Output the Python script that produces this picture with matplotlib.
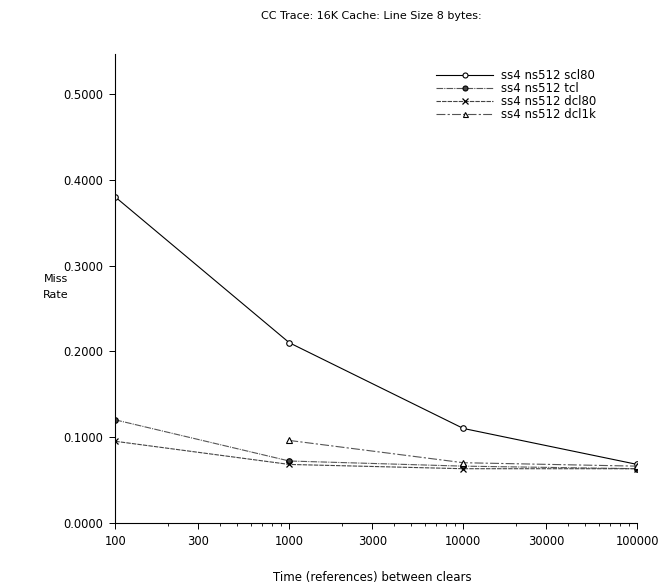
import numpy as np
import matplotlib
matplotlib.use("Agg")
import matplotlib.pyplot as plt
from matplotlib.ticker import FixedLocator, NullFormatter

plt.rcParams['font.family'] = ['DejaVu Sans']

# Clear interval (references) and miss rates for each configuration
intervals = [100, 1000, 10000, 100000]
scl80 = [0.38, 0.21, 0.11, 0.068]
tcl = [0.12, 0.072, 0.066, 0.063]
dcl80 = [0.095, 0.068, 0.063, 0.063]
dcl1k = [np.nan, 0.096, 0.070, 0.066]
series_names = ["ss4 ns512 scl80", "ss4 ns512 tcl", "ss4 ns512 dcl80", "ss4 ns512 dcl1k"]
xtick_vals = [100, 300, 1000, 3000, 10000, 30000, 100000]
ytick_vals = [0.0, 0.1, 0.2, 0.3, 0.4, 0.5]

fig = plt.figure(figsize=(6.59, 5.86), dpi=100)
ax = fig.add_axes([0.175, 0.108, 0.792, 0.80])

ax.plot(intervals, scl80, color="black", lw=0.8, ls="-", marker="o",
        ms=4, mfc="white", mec="black", mew=0.8, label=series_names[0])
ax.plot(intervals, tcl, color="#555555", lw=0.8, ls=(0, (6, 1, 1, 1)), marker="o",
        ms=4, mfc="#444444", mec="black", mew=0.8, label=series_names[1])
ax.plot(intervals, dcl80, color="#444444", lw=0.8, ls=(0, (4, 1)), marker="x",
        ms=4.5, mec="black", mew=0.9, label=series_names[2])
ax.plot(intervals, dcl1k, color="#555555", lw=0.8, ls=(0, (8, 2, 2, 2)), marker="^",
        ms=4, mfc="white", mec="black", mew=0.8, label=series_names[3])

ax.set_xscale("log")
ax.set_xlim(100, 100000)
ax.set_ylim(0, 0.547)

ax.xaxis.set_major_locator(FixedLocator(xtick_vals))
ax.set_xticklabels([str(v) for v in xtick_vals])
minor = [v * m for v in [100, 1000, 10000] for m in range(2, 10) if v * m not in xtick_vals]
ax.xaxis.set_minor_locator(FixedLocator(minor))
ax.xaxis.set_minor_formatter(NullFormatter())
ax.set_yticks(ytick_vals)
ax.set_yticklabels(["%.4f" % v for v in ytick_vals])

ax.spines["top"].set_visible(False)
ax.spines["right"].set_visible(False)
for s in ("left", "bottom"):
    ax.spines[s].set_linewidth(0.8)
ax.tick_params(axis="both", which="major", direction="out", length=4, width=0.7,
               labelsize=8.3, colors="black", pad=5)
ax.tick_params(axis="x", which="minor", direction="out", length=2, width=0.6)

fig.text(0.563, 0.972, "CC Trace: 16K Cache: Line Size 8 bytes:", ha="center",
         va="center", fontsize=8)
fig.text(0.085, 0.51, "Miss\nRate", ha="center", va="center", fontsize=8,
         linespacing=1.8)
fig.text(0.565, 0.014, "Time (references) between clears", ha="center",
         va="center", fontsize=8.5)

leg = ax.legend(loc="upper left", bbox_to_anchor=(0.595, 0.99), frameon=False,
                fontsize=8.5, handlelength=4.8, handletextpad=0.7, labelspacing=0.0,
                markerscale=0.9)

fig.savefig("out.png", dpi=100, facecolor="white")
